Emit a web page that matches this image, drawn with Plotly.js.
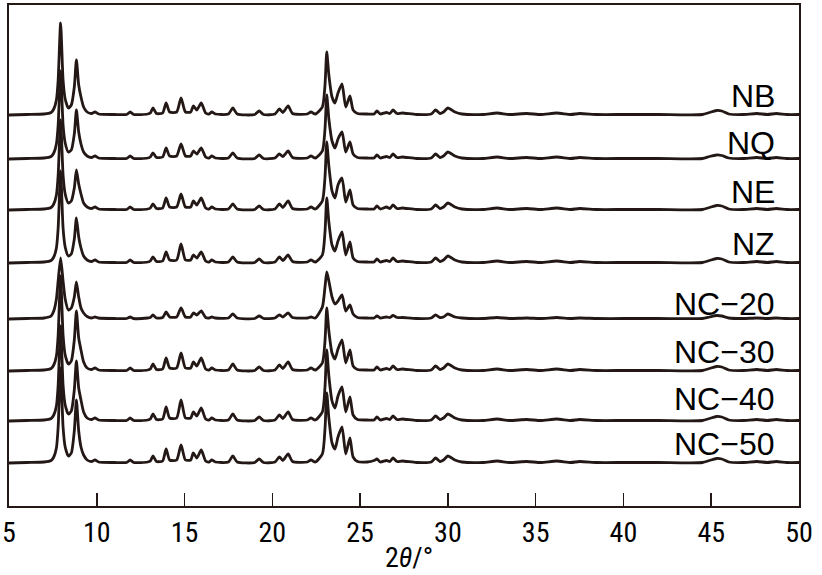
<!DOCTYPE html>
<html>
<head>
<meta charset="utf-8">
<script src="https://cdn.plot.ly/plotly-3.0.1.min.js"></script>
<style>html,body{margin:0;padding:0;background:#fff;}</style>
</head>
<body>
<div id="chart" style="width:822px;height:575px;"></div>
<script>
// 2θ sampling positions (degrees)
const twoTheta = [5.0,6.0,7.0,7.4,7.55,7.7,7.8,7.94,8.08,8.2,
  8.38,8.55,8.72,8.84,8.97,9.1,9.25,9.45,9.7,9.9,
  10.1,11.0,11.7,11.9,12.1,12.9,13.05,13.2,13.4,13.75,
  13.95,14.15,14.55,14.8,15.05,15.35,15.5,15.7,15.95,16.2,
  16.4,16.55,16.75,17.5,17.75,18.0,19.0,19.25,19.5,20.15,
  20.4,20.6,20.9,21.15,22.0,22.2,22.45,22.85,23.0,23.1,
  23.22,23.4,23.57,23.74,23.97,24.18,24.42,24.6,24.85,25.4,
  25.8,25.96,26.15,26.5,26.7,26.87,27.1,27.4,28.2,29.05,
  29.3,29.55,29.75,30.0,30.4,30.8,32.0,32.8,33.5,34.5,
  35.3,36.2,37.0,37.5,38.5,40.0,42.0,44.5,44.9,45.3,
  45.6,46.0,46.8,47.6,48.2,48.7,49.3,50.0];

const sampleNames = ["NB","NQ","NE","NZ","NC\u221220","NC\u221230","NC\u221240","NC\u221250"];
// vertical stacking offsets of each pattern (a.u.)
const stackOffsets = [391,347,296,243,187,135,85,43];

const intNB = [0,0.5,1,2.5,6,15,35,92,35,16,
  7,10,28,55,30,18,8,3,1.5,3,
  1,0.5,0.5,3,0.5,1,2,7,1.5,2,
  12,3,3,17,3,3,9,5,12,2,
  1,3,1,1,7,1,0.5,4,0.5,1,
  6,2.5,9,1.5,1,3,1,8,30,63,
  40,18,12,22,31,8,19,5,1.5,1,
  1,4,1,2.5,1.5,5,1.5,2,0.5,1,
  5,1.5,3,7,3,1,0.5,2,0.5,1.5,
  0.5,2,0.5,1.5,0.5,0.5,0.5,0.5,2.5,4.5,
  4,1,0.5,1.5,0.5,1.5,0.5,0.5];
const intNQ = [0,0.5,1,2.5,6,15,34,88,34,16,
  7,9,25,49,27,15,7,3,1.5,3,
  1,0.5,0.5,3,0.5,1,2,6,1.5,2,
  11,3,3,15,3,3,8,5,11,2,
  1,3,1,1,6,1,0.5,4,0.5,1,
  5,2.5,8,1.5,1,3,1,8,30,64,
  40,18,11,20,27,7,17,5,1.5,1,
  1,4,1,2.5,1.5,5,1.5,2,0.5,1,
  5,1.5,3,7,3,1,0.5,2,0.5,1.5,
  0.5,2,0.5,1.5,0.5,0.5,0.5,0.5,2.5,4,
  3.5,1,0.5,1.5,0.5,1.5,0.5,0.5];
const intNE = [0,0.5,1,2.5,6,15,35,90,35,16,
  7,9,22,40,26,16,7,3,1.5,3,
  1,0.5,0.5,3,0.5,1,2,6,1.5,2,
  12,3,3,16,3,3,9,5,12,2,
  1,3,1,1,6,1,0.5,4,0.5,1,
  6,2.5,9,1.5,1,3,1,9,33,68,
  44,19,12,25,32,8,20,5,1.5,1,
  1,4,1,3,1.5,5,1.5,2,0.5,1,
  5,1.5,3,7,3,1,0.5,2,0.5,1.5,
  0.5,2,0.5,1.5,0.5,0.5,0.5,0.5,2.5,4.5,
  4,1,0.5,1.5,0.5,1.5,0.5,0.5];
const intNZ = [0,0.5,1,2.5,6,15,35,92,35,16,
  7,9,24,45,26,15,7,3,1.5,3,
  1,0.5,0.5,3,0.5,1,2,6,1.5,2,
  11,3,3,19,3,3,8,5,11,2,
  1,3,1,1,6,1,0.5,4,0.5,1,
  6,2.5,8,1.5,1,3,1,8,31,65,
  41,18,12,22,31,8,21,5,1.5,1,
  1,4,1,2.5,1.5,5,1.5,2,0.5,1,
  5,1.5,3,7,3,1,0.5,2,0.5,1.5,
  0.5,2,0.5,1.5,0.5,0.5,0.5,0.5,2.5,4.5,
  4,1,0.5,1.5,0.5,1.5,0.5,0.5];
const intNC20 = [0,0.5,1,3,8,20,38,61,38,20,
  9,11,22,37,22,11,6,2.5,1,2,
  1,0.5,0.5,2,0.5,1,1.5,4,1,1.5,
  7,2,2,11,2,2,6,4,8,1.5,
  1,2,1,1,5,1,0.5,3,0.5,1,
  4,2,6,1.5,1,2,1,12,32,47,
  38,22,15,18,24,8,14,5,1.5,1,
  1,3,1,2,1.5,3.5,1.5,1.5,0.5,1,
  4,1.5,2,5,2,1,0.5,1.5,0.5,1,
  0.5,1.5,0.5,1,0.5,0.5,0.5,0.5,2,3.5,
  3,1,0.5,1,0.5,1,0.5,0.5];
const intNC30 = [0,0.5,1,2.5,6,15,36,95,36,16,
  7,10,31,60,33,21,9,3,1.5,3,
  1,0.5,0.5,3,0.5,1,2,7,1.5,2,
  13,3,3,18,3,3,9,5,13,2,
  1,3,1,1,7,1,0.5,4,0.5,1,
  6,2.5,9,1.5,1,3,1,8,30,63,
  40,18,12,22,31,8,21,5,1.5,1,
  1,4,1,2.5,1.5,5,1.5,2,0.5,1,
  5,1.5,3,7,3,1,0.5,2,0.5,1.5,
  0.5,2,0.5,1.5,0.5,0.5,0.5,0.5,2.5,4.5,
  4,1,0.5,1.5,0.5,1.5,0.5,0.5];
const intNC40 = [0,0.5,1,2.5,6,15,36,95,36,16,
  7,10,31,60,33,21,9,3,1.5,3,
  1,0.5,0.5,3,0.5,1,2,7,1.5,2,
  14,3,3,21,3,3,9,5,13,2,
  1,3,1,1,7,1,0.5,4,0.5,1,
  6,2.5,9,1.5,1,3,1,9,34,71,
  45,20,13,25,34,9,24,6,1.5,1,
  1,4,1,2.5,1.5,5,1.5,2,0.5,1,
  5,1.5,3,7,3,1,0.5,2,0.5,1.5,
  0.5,2,0.5,1.5,0.5,0.5,0.5,0.5,2.5,4.5,
  4,1,0.5,1.5,0.5,1.5,0.5,0.5];
const intNC50 = [0,0.5,1,2.5,6,15,36,95,36,16,
  7,10,32,63,32,16,8,3,1.5,3,
  1,0.5,0.5,3,0.5,1,2,7,1.5,2,
  14,3,3,18,3,3,10,5,13,2,
  1,3,1,1,7,1,0.5,4,0.5,1,
  6,2.5,9,1.5,1,3,1,9,34,70,
  45,20,14,26,36,9,25,6,1.5,1,
  2.5,4,1,2.5,1.5,5,1.5,2,0.5,1,
  5,1.5,3,7,3,1,0.5,2,0.5,1.5,
  0.5,2,0.5,1.5,0.5,0.5,0.5,0.5,2.5,4.5,
  4,1,0.5,1.5,0.5,1.5,0.5,0.5];

const xTickVals = [5,10,15,20,25,30,35,40,45,50];
const xTickText = ["5","10","15","20","25","30","35","40","45","50"];
const xTitle = '2<i>θ</i>/°';

const series = [intNB,intNQ,intNE,intNZ,intNC20,intNC30,intNC40,intNC50];
const ink = '#231815';

const traces = series.map((vals, i) => ({
  type: 'scatter', mode: 'lines', name: sampleNames[i],
  x: twoTheta,
  y: vals.map(v => v + stackOffsets[i]),
  line: {color: ink, width: 2.8, shape: 'spline', smoothing: 0.6},
  hoverinfo: 'skip'
}));

const narrow = '"Roboto Condensed", "Liberation Sans Narrow", "DejaVu Sans Condensed", "Liberation Sans", sans-serif';

const labelY = [410,363.5,314,262,202,154,107,62];
const annotations = sampleNames.map((n, i) => ({
  text: n, x: 48.75, xref: 'x', y: labelY[i], yref: 'y',
  xanchor: 'right', yanchor: 'middle', showarrow: false,
  font: {family: '"Liberation Sans", Arial, Helvetica, sans-serif', size: 32, color: '#000'}
}));
// axis title, placed below the tick labels
annotations.push({
  text: xTitle, xref: 'paper', x: 0.5, xshift: 5, yref: 'paper', y: 0,
  yanchor: 'bottom', yshift: -69, borderpad: 0, showarrow: false,
  font: {family: narrow, size: 28, color: '#000'}
});

const layout = {
  width: 822, height: 575,
  margin: {l: 9, r: 23, t: 5, b: 69},
  paper_bgcolor: '#fff', plot_bgcolor: '#fff',
  showlegend: false,
  xaxis: {
    range: [5, 50], tickvals: xTickVals, ticktext: xTickText,
    ticks: 'inside', ticklen: 13, tickwidth: 1.5, tickcolor: ink,
    showline: true, mirror: true, linecolor: ink, linewidth: 2,
    showgrid: false, zeroline: false,
    tickfont: {family: narrow, size: 28, color: '#000'}
  },
  yaxis: {
    range: [0, 501], showticklabels: false, ticks: '',
    showline: true, mirror: true, linecolor: ink, linewidth: 2,
    showgrid: false, zeroline: false
  },
  annotations: annotations
};

Plotly.newPlot('chart', traces, layout, {displayModeBar: false, staticPlot: true});
</script>
</body>
</html>
